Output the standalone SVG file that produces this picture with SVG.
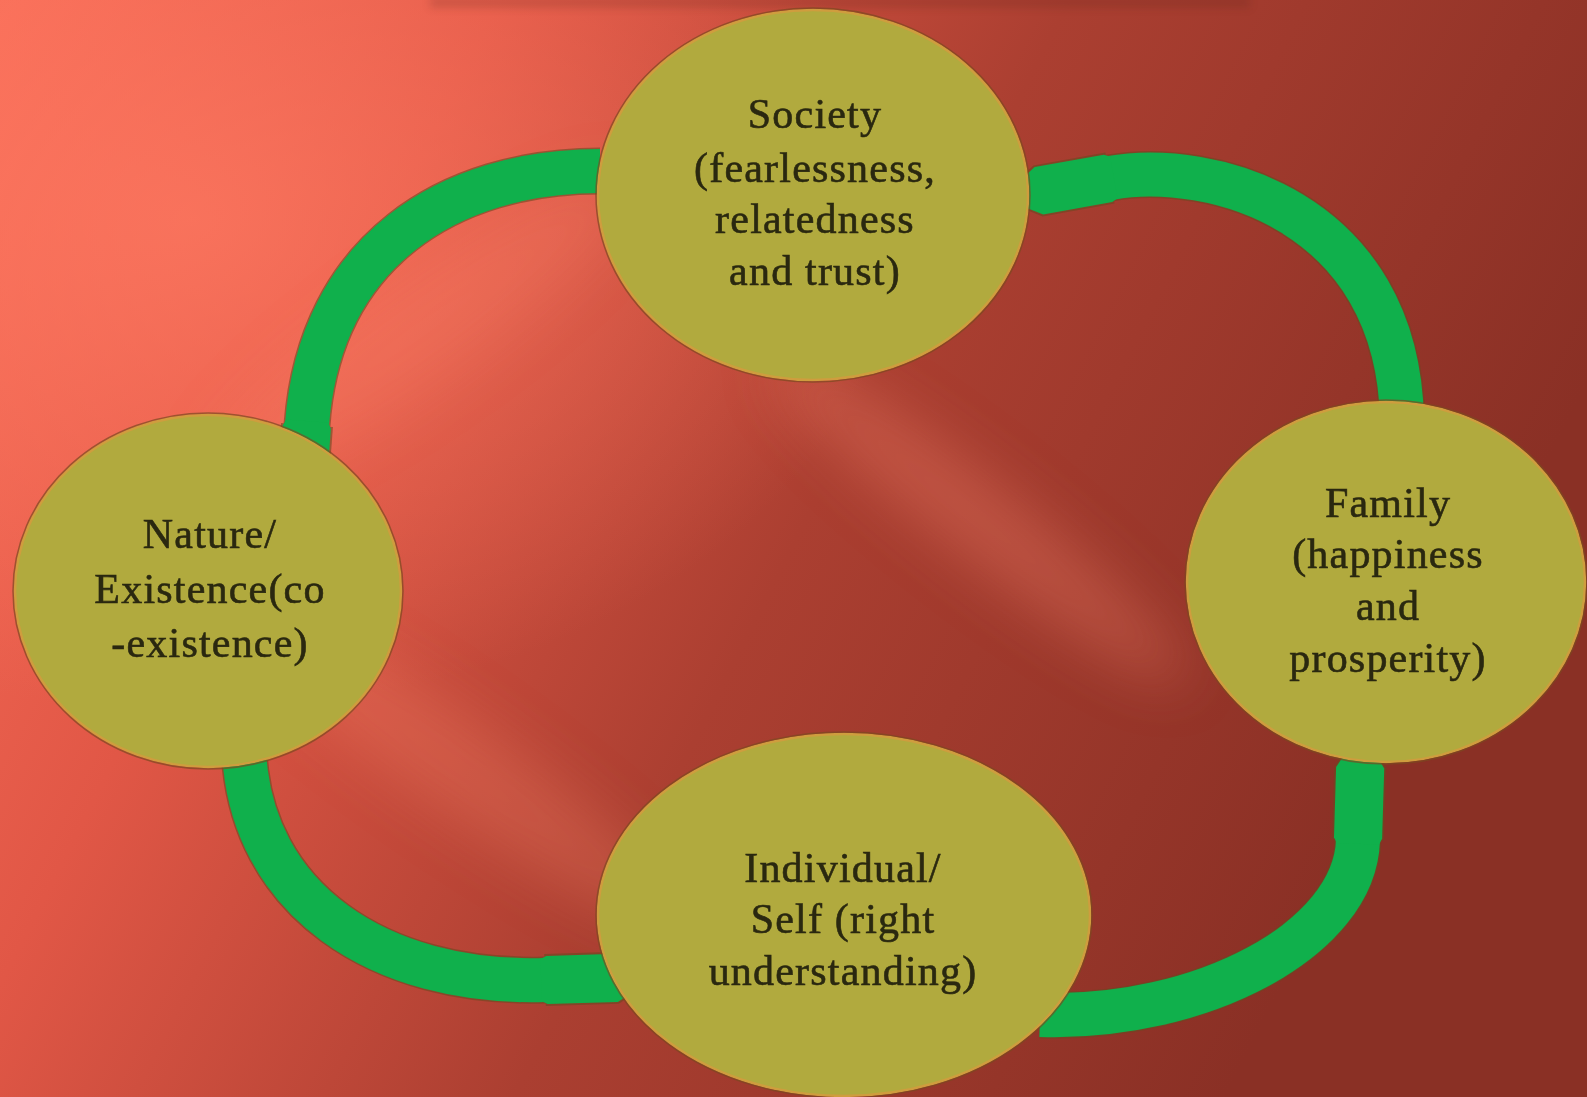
<svg xmlns="http://www.w3.org/2000/svg" width="1587" height="1097" viewBox="0 0 1587 1097">
  <defs>
    <linearGradient id="bg" x1="0" y1="0" x2="1" y2="0.35">
      <stop offset="0" stop-color="#f86d58"/>
      <stop offset="0.28" stop-color="#e15746"/>
      <stop offset="0.6" stop-color="#ab3f31"/>
      <stop offset="1" stop-color="#8a3025"/>
    </linearGradient>
    <radialGradient id="glow" cx="0.12" cy="0.2" r="0.45">
      <stop offset="0" stop-color="#ff7a62" stop-opacity="0.7"/>
      <stop offset="1" stop-color="#ff7a62" stop-opacity="0"/>
    </radialGradient>
    <filter id="blur" x="-50%" y="-50%" width="200%" height="200%">
      <feGaussianBlur stdDeviation="28"/>
    </filter>
    <filter id="blurS" x="-20%" y="-200%" width="140%" height="500%">
      <feGaussianBlur stdDeviation="4"/>
    </filter>
    <marker id="head" markerUnits="userSpaceOnUse" markerWidth="130" markerHeight="70" refX="0" refY="0" viewBox="-5 -35 135 70" orient="auto">
      <path d="M-4,-22 L2,-25 L75,-25 L115,0 L75,25 L2,25 L-4,22 Z" fill="#10b04c"/>
    </marker>
    <marker id="headO" markerUnits="userSpaceOnUse" markerWidth="130" markerHeight="70" refX="0" refY="0" viewBox="-5 -35 135 70" orient="auto">
      <path d="M0,-27 L76,-27 L118,0 L76,27 L0,27 Z" fill="#6b4a22" fill-opacity="0.6"/>
    </marker>
    <style>
      .node ellipse { fill: #b1aa3e; stroke: #cf9d3e; stroke-width: 2.5; }
      .node .rim { fill: none; stroke: #7a4a20; stroke-width: 1.5; stroke-opacity: 0.7; }
      .node text { font-family: "Liberation Serif", "Times New Roman", serif; font-size: 42px; letter-spacing: 1.2px; fill: #2a2810; stroke: #2a2810; stroke-width: 0.6; text-anchor: middle; }
      .band { fill: none; stroke: #10b04c; stroke-width: 44; }
      .bandO { fill: none; stroke: #6b4a22; stroke-opacity: 0.6; stroke-width: 47; }
    </style>
  </defs>

  <!-- background -->
  <rect x="0" y="0" width="1587" height="1097" fill="url(#bg)"/>
  <rect x="0" y="0" width="1587" height="1097" fill="url(#glow)"/>
  <g filter="url(#blur)" fill="#ff8a70">
    <ellipse cx="980" cy="520" rx="260" ry="38" transform="rotate(38 980 520)" opacity="0.3"/>
    <ellipse cx="450" cy="760" rx="300" ry="45" transform="rotate(35 450 760)" opacity="0.25"/>
    <ellipse cx="420" cy="330" rx="260" ry="50" transform="rotate(-35 420 330)" opacity="0.2"/>
  </g>
  <rect x="430" y="-4" width="820" height="12" fill="#5a2418" opacity="0.2" filter="url(#blurS)"/>

  <!-- connectors -->
  <g id="connectors">
    <g id="society-to-nature">
      <path class="bandO" d="M 600 171 C 450 171, 320 250, 307 425" marker-end="url(#headO)"/>
      <path class="band" d="M 600 171 C 450 171, 320 250, 307 425" marker-end="url(#head)"/>
    </g>
    <g id="family-to-society">
      <path class="bandO" d="M 1402 420 C 1398 210, 1210 160, 1110 178" marker-end="url(#headO)"/>
      <path class="band" d="M 1402 420 C 1398 210, 1210 160, 1110 178" marker-end="url(#head)"/>
    </g>
    <g id="individual-to-family">
      <path class="bandO" d="M 1040 1015 C 1200 1020, 1355 940, 1358 840" marker-end="url(#headO)"/>
      <path class="band" d="M 1040 1015 C 1200 1020, 1355 940, 1358 840" marker-end="url(#head)"/>
    </g>
    <g id="nature-to-individual">
      <path class="bandO" d="M 244 750 C 250 900, 380 985, 545 980" marker-end="url(#headO)"/>
      <path class="band" d="M 244 750 C 250 900, 380 985, 545 980" marker-end="url(#head)"/>
    </g>
  </g>

  <!-- nodes -->
  <g id="society" class="node">
    <ellipse cx="813" cy="195" rx="215" ry="185"/>
    <ellipse class="rim" cx="813" cy="195" rx="217" ry="187"/>
    <text x="815" y="128">Society</text>
    <text x="815" y="182">(fearlessness,</text>
    <text x="815" y="233">relatedness</text>
    <text x="815" y="285">and trust)</text>
  </g>
  <g id="nature" class="node">
    <ellipse cx="208" cy="591" rx="193" ry="176"/>
    <ellipse class="rim" cx="208" cy="591" rx="195" ry="178"/>
    <text x="210" y="548">Nature/</text>
    <text x="210" y="603">Existence(co</text>
    <text x="210" y="657">-existence)</text>
  </g>
  <g id="family" class="node">
    <ellipse cx="1386" cy="582" rx="199" ry="180"/>
    <ellipse class="rim" cx="1386" cy="582" rx="201" ry="182"/>
    <text x="1388" y="517">Family</text>
    <text x="1388" y="568">(happiness</text>
    <text x="1388" y="620">and</text>
    <text x="1388" y="672">prosperity)</text>
  </g>
  <g id="individual" class="node">
    <ellipse cx="844" cy="915" rx="246" ry="181"/>
    <ellipse class="rim" cx="844" cy="915" rx="248" ry="183"/>
    <text x="843" y="882">Individual/</text>
    <text x="843" y="933">Self (right</text>
    <text x="843" y="985">understanding)</text>
  </g>
</svg>
